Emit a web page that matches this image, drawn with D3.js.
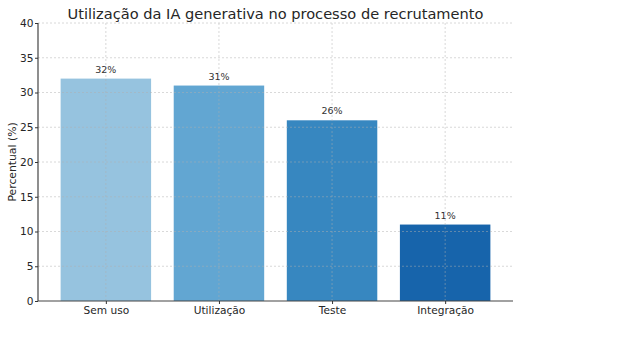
<!DOCTYPE html>
<html><head><meta charset="utf-8">
<script src="https://cdn.jsdelivr.net/npm/d3@7"></script>
<style>body{margin:0;background:#fff;font-family:"DejaVu Sans",sans-serif;}</style>
</head><body><svg id="c" width="621" height="350"></svg>
<script>
const categories = ["Sem uso", "Utilização", "Teste", "Integração"];
const values = [32, 31, 26, 11];
const colors = ["#96c3df", "#62a6d2", "#3787c0", "#1764ab"];
const yTicks = [0, 5, 10, 15, 20, 25, 30, 35, 40];
const title = "Utilização da IA generativa no processo de recrutamento";
const yLabel = "Percentual (%)";

const svg = d3.select("#c");
const m = {l: 38, r: 108, t: 23, b: 49};
const W = 621, H = 350;
const x = d3.scaleLinear().domain([-0.6, 3.6]).range([m.l, W - m.r]);
const y = d3.scaleLinear().domain([0, 40]).range([H - m.b, m.t]);
const bw = x(0.4) - x(-0.4);

svg.selectAll("rect.bar").data(values).join("rect")
  .attr("x", (d, i) => x(i) - bw / 2).attr("width", bw)
  .attr("y", d => y(d)).attr("height", d => y(0) - y(d))
  .attr("fill", (d, i) => colors[i]);

// grid
const g = svg.append("g").attr("stroke", "#b0b0b0").attr("stroke-dasharray", "2,2").attr("stroke-width", 0.8).attr("opacity", 0.6);
g.selectAll("line.h").data(yTicks.slice(1)).join("line")
  .attr("x1", m.l).attr("x2", W - m.r).attr("y1", d => y(d)).attr("y2", d => y(d));
g.selectAll("line.v").data(categories).join("line")
  .attr("x1", (d, i) => x(i)).attr("x2", (d, i) => x(i)).attr("y1", m.t).attr("y2", H - m.b);

// axes
const ya = svg.append("g").attr("transform", `translate(${m.l},0)`)
  .call(d3.axisLeft(y).tickValues(yTicks).tickSize(3).tickPadding(1.5));
const xa = svg.append("g").attr("transform", `translate(0,${H - m.b})`)
  .call(d3.axisBottom(x).tickValues([0,1,2,3]).tickFormat(i => categories[i]).tickSize(3).tickPadding(2.5));
[ya, xa].forEach(a => {
  a.selectAll("text").attr("font-family", "DejaVu Sans").attr("font-size", 10.6).attr("fill", "#262626");
  a.selectAll("line").attr("stroke", "#333");
  a.select(".domain").attr("stroke", "#444").attr("stroke-width", 1.2);
});
ya.select(".domain").attr("d", `M0,${y(40)}V${y(0)}`);
xa.select(".domain").attr("d", `M${m.l},0H${W - m.r}`);

// value labels
svg.selectAll("text.val").data(values).join("text")
  .attr("x", (d, i) => x(i)).attr("y", d => y(d) - 6)
  .attr("text-anchor", "middle").attr("font-size", 9.5).attr("fill", "#333")
  .text(d => d + "%");

svg.append("text").attr("x", (m.l + W - m.r) / 2).attr("y", 19).attr("text-anchor", "middle")
  .attr("font-size", 14.6).attr("fill", "#262626").text(title);
svg.append("text").attr("transform", `translate(16,${(m.t + H - m.b) / 2}) rotate(-90)`)
  .attr("text-anchor", "middle").attr("font-size", 10.8).attr("fill", "#262626").text(yLabel);
</script></body></html>
